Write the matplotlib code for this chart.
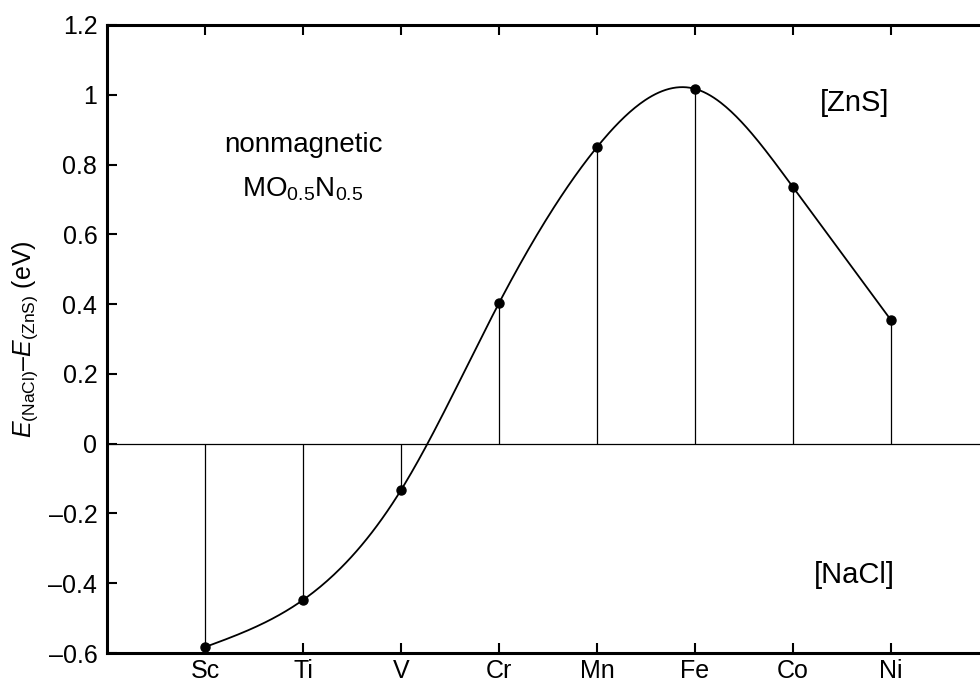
import numpy as np
import matplotlib
matplotlib.use("Agg")
import matplotlib.pyplot as plt
from matplotlib.ticker import FuncFormatter

plt.rcParams['font.family'] = ['Liberation Sans', 'DejaVu Sans']
plt.rcParams['mathtext.fontset'] = 'custom'
plt.rcParams['mathtext.rm'] = 'Liberation Sans'
plt.rcParams['mathtext.it'] = 'Liberation Sans:italic'

metals = ["Sc", "Ti", "V", "Cr", "Mn", "Fe", "Co", "Ni"]
delta_e = [-0.583, -0.448, -0.133, 0.403, 0.850, 1.017, 0.735, 0.354]
y_ticks = [-0.6, -0.4, -0.2, 0, 0.2, 0.4, 0.6, 0.8, 1.0, 1.2]


def natural_spline(x, y, xs):
    # natural cubic spline, just for drawing the smooth guide line
    x = np.asarray(x, float)
    y = np.asarray(y, float)
    n = len(x)
    h = np.diff(x)
    A = np.zeros((n, n))
    b = np.zeros(n)
    A[0, 0] = A[-1, -1] = 1
    for i in range(1, n - 1):
        A[i, i - 1] = h[i - 1]
        A[i, i] = 2 * (h[i - 1] + h[i])
        A[i, i + 1] = h[i]
        b[i] = 6 * ((y[i + 1] - y[i]) / h[i] - (y[i] - y[i - 1]) / h[i - 1])
    M = np.linalg.solve(A, b)
    idx = np.clip(np.searchsorted(x, xs) - 1, 0, n - 2)
    x0, x1 = x[idx], x[idx + 1]
    hh = x1 - x0
    t0, t1 = x1 - xs, xs - x0
    return (M[idx] * t0**3 / (6 * hh) + M[idx + 1] * t1**3 / (6 * hh)
            + (y[idx] / hh - M[idx] * hh / 6) * t0
            + (y[idx + 1] / hh - M[idx + 1] * hh / 6) * t1)


xpos = np.arange(1, len(metals) + 1)

fig = plt.figure(figsize=(9.8, 6.81), dpi=100)
ax = fig.add_axes([0.1092, 0.0411, 0.9, 0.9222])

ax.axhline(0, color="black", lw=0.9)
ax.vlines(xpos, 0, delta_e, color="black", lw=0.9)
xs = np.linspace(xpos[0], xpos[-1], 400)
ax.plot(xs, natural_spline(xpos, delta_e, xs), color="black", lw=1.3)
ax.plot(xpos, delta_e, "o", color="black", ms=6.5)

ax.set_xlim(0, 9)
ax.set_ylim(-0.6, 1.2)
ax.set_xticks(xpos)
ax.set_xticklabels(metals)
ax.set_yticks(y_ticks)
ax.yaxis.set_major_formatter(FuncFormatter(lambda v, p: ("%g" % v).replace("-", "\u2013")))
ax.tick_params(direction="in", length=7, width=1.5, labelsize=18, top=True, pad=4)
ax.tick_params(axis="y", pad=7)
for s in ax.spines.values():
    s.set_linewidth(2.2)

ax.set_ylabel(r"$E_{\rm (NaCl)}$–$E_{\rm (ZnS)}$ (eV)", fontsize=18, labelpad=6)

ax.text(2.0, 0.856, "nonmagnetic", fontsize=20, ha="center", va="center")
ax.text(2.0, 0.73, r"MO$_{0.5}$N$_{0.5}$", fontsize=20, ha="center", va="center")
ax.text(7.63, 0.975, "[ZnS]", fontsize=21, ha="center", va="center")
ax.text(7.63, -0.375, "[NaCl]", fontsize=21, ha="center", va="center")

plt.savefig("out.png", dpi=100)
plt.close()
